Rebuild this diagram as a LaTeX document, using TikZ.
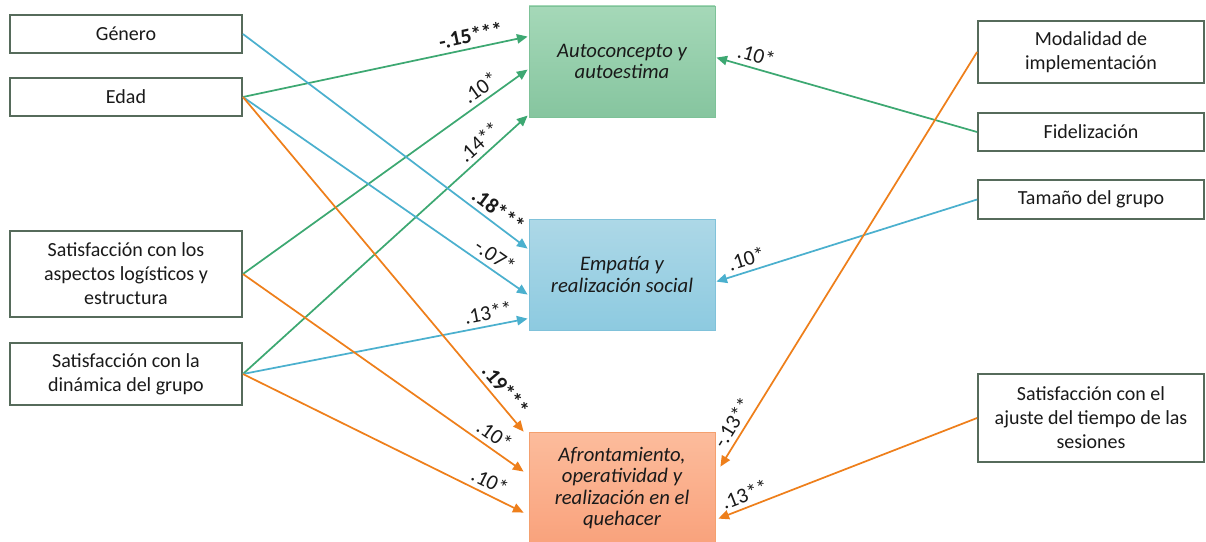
\documentclass[tikz,border=0pt]{standalone}
\usepackage{fontspec}
\setmainfont{Carlito}
\usetikzlibrary{arrows.meta,calc}

\definecolor{boxline}{HTML}{566B5B}
\definecolor{txt}{HTML}{1A1A1A}
\definecolor{garrow}{HTML}{3DA872}
\definecolor{barrow}{HTML}{4BB0CE}
\definecolor{oarrow}{HTML}{EE7F1B}
\definecolor{gtop}{HTML}{A5D8B8}
\definecolor{gbot}{HTML}{86C59F}
\definecolor{gline}{HTML}{7DC298}
\definecolor{btop}{HTML}{ADD8E7}
\definecolor{bbot}{HTML}{8DCAE0}
\definecolor{bline}{HTML}{80C2DA}
\definecolor{otop}{HTML}{FCBC9C}
\definecolor{obot}{HTML}{F9A27C}
\definecolor{oline}{HTML}{F4A06F}

\begin{document}
\begin{tikzpicture}[x=0.75pt,y=-0.75pt,
  factor/.style={draw=boxline, line width=1.4pt, fill=white, text=txt,
    align=center, inner sep=2pt, font=\fontsize{15}{18}\selectfont},
  leftbox/.style={factor, minimum width=174pt},
  rightbox/.style={factor, minimum width=169.5pt},
  outcome/.style={line width=0.6pt, text=txt, align=center, inner sep=2pt,
    minimum width=139.5pt, minimum height=83.25pt,
    font=\fontsize{15.5}{16}\selectfont\itshape},
  link/.style={line width=1.3pt, -{Triangle[length=8pt,width=7pt]}},
  garr/.style={link, draw=garrow, fill=garrow},
  barr/.style={link, draw=barrow, fill=barrow},
  oarr/.style={link, draw=oarrow, fill=oarrow},
  coef/.style={sloped, above, text=txt, inner sep=3.5pt,
    font=\fontsize{16}{18}\selectfont},
  coefb/.style={coef, font=\fontsize{16}{18}\selectfont\bfseries}
]
\useasboundingbox (0,0) rectangle (1206,542);

% predictors on the left
\node[leftbox, minimum height=28.5pt] (gen) at (126,34) {Género};
\node[leftbox, minimum height=28.5pt] (edad) at (126,97) {Edad};
\node[leftbox, minimum height=64.5pt] (logis) at (126,274)
  {Satisfacción con los\\aspectos logísticos y\\estructura};
\node[leftbox, minimum height=46.5pt] (dinam) at (126,374)
  {Satisfacción con la\\dinámica del grupo};

% predictors on the right
\node[rightbox, minimum height=46.5pt] (modal) at (1091,52)
  {Modalidad de\\implementación};
\node[rightbox, minimum height=28.5pt] (fidel) at (1091,132) {Fidelización};
\node[rightbox, minimum height=29pt] (tam) at (1091,199.5) {Tamaño del grupo};
\node[rightbox, minimum height=66pt] (ajuste) at (1091,418)
  {Satisfacción con el\\ajuste del tiempo de las\\sesiones};

% outcome dimensions
\node[outcome, draw=gline, top color=gtop, bottom color=gbot] (auto) at (622,61.5)
  {Autoconcepto y\\autoestima};
\node[outcome, draw=bline, top color=btop, bottom color=bbot] (emp) at (622,274.5)
  {Empatía y\\realización social};
\node[outcome, draw=oline, top color=otop, bottom color=obot,
  minimum height=84pt] (afr) at (622,488)
  {Afrontamiento,\\operatividad y\\realización en el\\quehacer};

% arrow end points on the outcome boxes
\coordinate (a1) at ($(auto.north west)+(-1,31)$);
\coordinate (a2) at ($(auto.north west)+(-1,64)$);
\coordinate (a3) at ($(auto.north west)+(-1,110)$);
\coordinate (a4) at ($(auto.north east)+(1,52)$);
\coordinate (e1) at ($(emp.north west)+(-1,30)$);
\coordinate (e2) at ($(emp.north west)+(-1,76)$);
\coordinate (e3) at ($(emp.north west)+(-1,100)$);
\coordinate (e4) at ($(emp.north east)+(1,63)$);
\coordinate (f1) at ($(afr.north west)+(-5,0)$);
\coordinate (f2) at ($(afr.north west)+(-5,40)$);
\coordinate (f3) at ($(afr.north west)+(-5,81)$);
\coordinate (f4) at ($(afr.north east)+(5,35)$);
\coordinate (f5) at ($(afr.north east)+(3,87)$);

% paths to Autoconcepto y autoestima
\draw[garr] (edad.east) -- node[coefb, pos=0.81] {-.15***} (a1);
\draw[garr] (logis.east) -- node[coef, pos=0.86] {.10*} (a2);
\draw[garr] (dinam.east) -- node[coef, pos=0.86] {.14**} (a3);
\draw[garr] (fidel.west) -- node[coef, pos=0.86] {.10*} (a4);

% paths to Empatía y realización social
\draw[barr] (gen.east) -- node[coefb, pos=0.87] {.18***} (e1);
\draw[barr] (edad.east) -- node[coef, pos=0.86] {-.07*} (e2);
\draw[barr] (dinam.east) -- node[coef, pos=0.87] {.13**} (e3);
\draw[barr] (tam.west) -- node[coef, pos=0.87] {.10*} (e4);

% paths to Afrontamiento
\draw[oarr] (edad.east) -- node[coefb, pos=0.9] {.19***} (f1);
\draw[oarr] (logis.east) -- node[coef, pos=0.87] {.10*} (f2);
\draw[oarr] (dinam.east) -- node[coef, pos=0.86] {.10*} (f3);
\draw[oarr] (modal.west) -- node[coef, pos=0.91] {-.13**} (f4);
\draw[oarr] (ajuste.west) -- node[coef, pos=0.88] {.13**} (f5);
\end{tikzpicture}
\end{document}
